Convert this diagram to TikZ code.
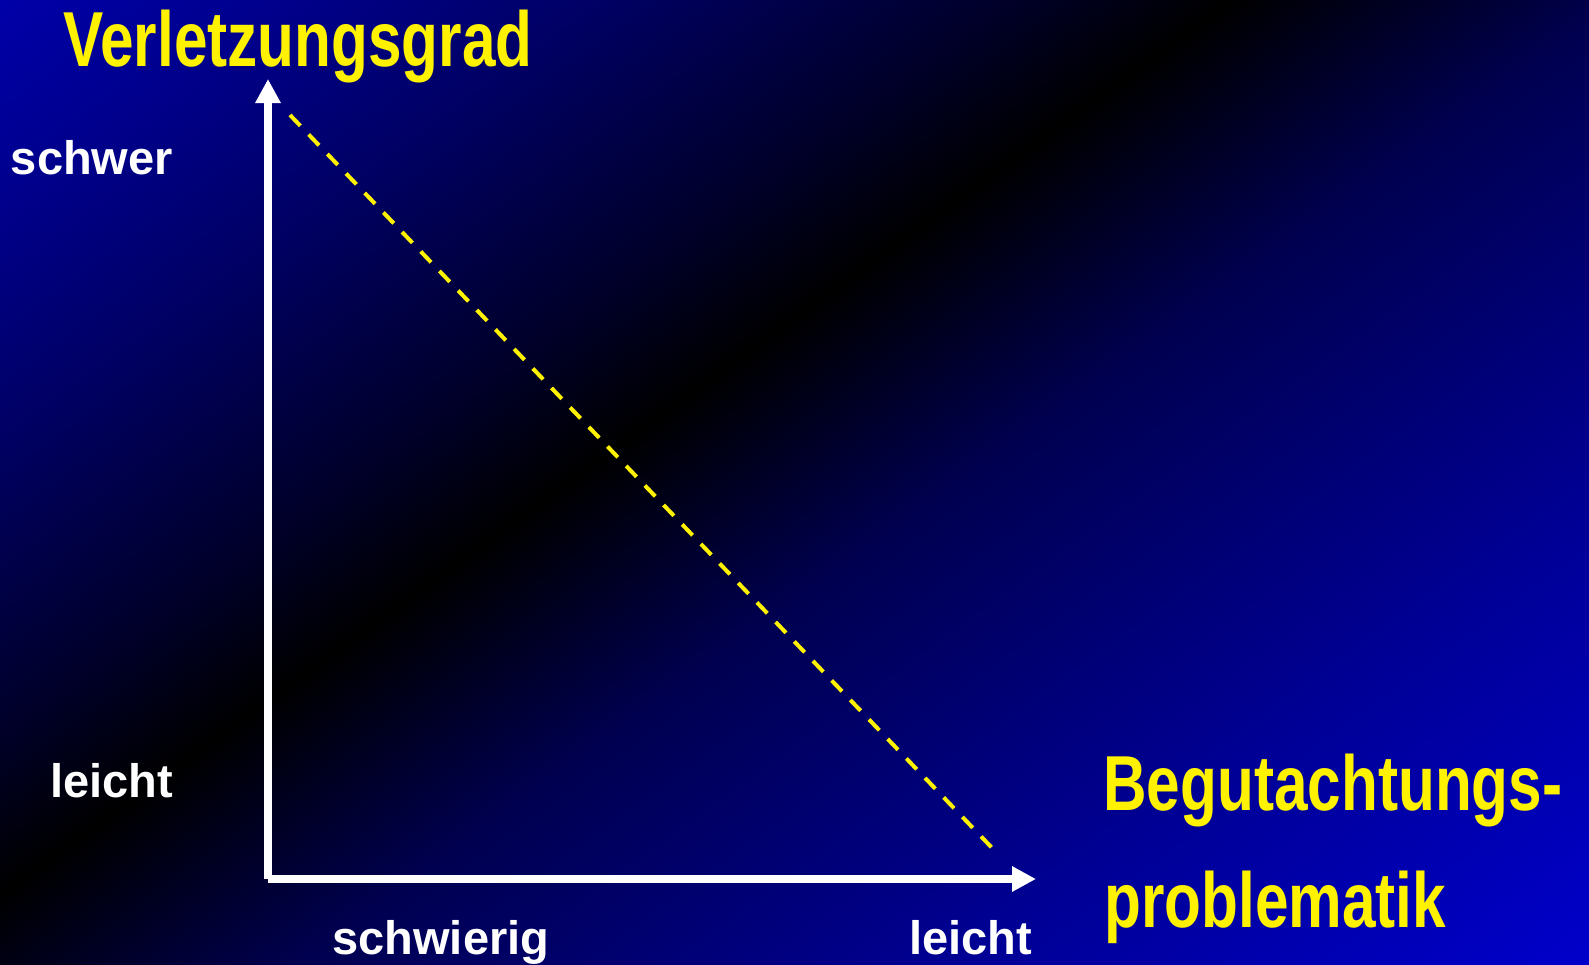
\documentclass[tikz,border=0pt]{standalone}
\usepackage{fontspec}
\setmainfont{Liberation Sans}
\usetikzlibrary{arrows.meta}

\definecolor{bgbr}{RGB}{0,0,204}
\definecolor{bgbra}{RGB}{0,0,150}
\definecolor{bgbrb}{RGB}{0,0,80}
\definecolor{bgtla}{RGB}{0,0,40}
\definecolor{bgtlb}{RGB}{0,0,100}
\definecolor{bgtlc}{RGB}{0,0,140}
\definecolor{bgtl}{RGB}{0,0,170}
\pgfdeclareverticalshading{slidebg}{100bp}{color(0bp)=(bgbr); color(25bp)=(bgbr); color(35.7bp)=(bgbra); color(47.2bp)=(bgbrb); color(53.85bp)=(black); color(57.5bp)=(bgtla); color(64.5bp)=(bgtlb); color(70bp)=(bgtlc); color(75bp)=(bgtl); color(100bp)=(bgtl)}

\begin{document}
\begin{tikzpicture}[x=0.5pt, y=-0.5pt, >={Triangle[length=12pt, width=12pt]},
  axis/.style={draw=white, line width=4pt, ->},
  lbl/.style={text=white, font=\fontsize{23.5}{28}\selectfont\bfseries, anchor=base west, inner sep=0pt},
  ttl/.style={text=yellow, font=\fontsize{39}{47}\selectfont\bfseries, anchor=base west, inner sep=0pt}]
  \useasboundingbox (0,0) rectangle (1589,964);
  \begin{scope}
    \clip (0,0) rectangle (1589,964);
    \begin{scope}[transform canvas={rotate around={36:(794.5,482)}}]
      \shade[shading=slidebg] (-300,-382.3) rectangle (1889,1346.3);
    \end{scope}
  \end{scope}

  \coordinate (origin) at (268,879);
  \coordinate (ytip) at (268,79);
  \coordinate (xtip) at (1036,879);
  \coordinate (dashA) at (290,115);
  \coordinate (dashB) at (995,851);

  \draw[axis] (origin) -- (ytip);
  \draw[axis] (origin) -- (xtip);
  \draw[yellow, line width=2pt, dash pattern=on 7.5pt off 6pt] (dashA) -- (dashB);

  \node[ttl] (vgrad) at (63,66) {\scalebox{0.773}[1]{Verletzungsgrad}};
  \node[lbl] (schwer) at (10.5,174) {schwer};
  \node[lbl] (yleicht) at (50,797) {leicht};
  \node[lbl] (schwierig) at (332,954) {schwierig};
  \node[lbl] (xleicht) at (909,954) {leicht};
  \node[ttl] (begut) at (1103,810) {\scalebox{0.773}[1]{Begutachtungs-}};
  \node[ttl] (problem) at (1104,927) {\scalebox{0.773}[1]{problematik}};
\end{tikzpicture}
\end{document}
